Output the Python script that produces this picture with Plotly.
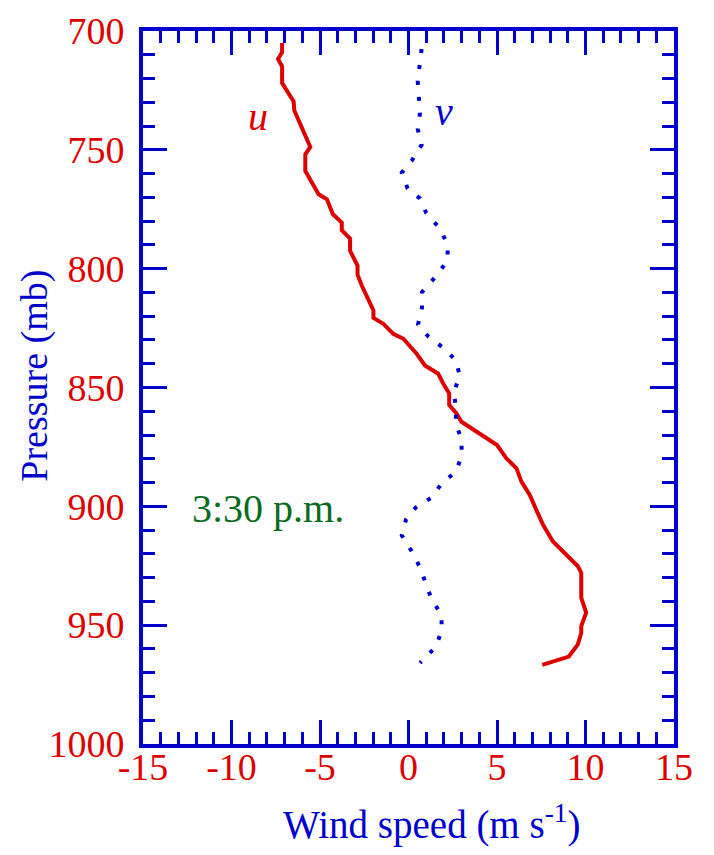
import plotly.graph_objects as go

# u component (solid red): pressure (mb) and wind speed (m/s)
u_pressure = [705.1, 708.9, 711.8, 714.9, 721.9, 726.1, 729.6, 733.5, 743.5, 748.8,
              751.9, 758.9, 768.7, 770.8, 777.1, 780.6, 783.8, 787.3, 792.5, 798.7,
              802.5, 807.1, 817.6, 820.7, 823.2, 827.4, 829.5, 835.8, 840.7, 844.2,
              848.3, 852.5, 857.4, 860.9, 864.4, 874.2, 879.8, 884.0, 889.6, 895.2,
              901.5, 907.8, 914.8, 920.3, 925.2, 928.0, 938.5, 944.8, 950.4, 953.2,
              958.1, 963.2, 966.7]
u_speed = [-7.14, -7.14, -7.37, -7.14, -7.14, -6.77, -6.49, -6.45, -5.83, -5.55,
           -5.83, -5.83, -5.08, -4.61, -4.27, -3.77, -3.77, -3.30, -3.30, -2.88,
           -2.88, -2.64, -1.98, -1.98, -1.42, -0.86, -0.29, 0.46, 0.93, 1.68,
           1.96, 2.30, 2.30, 2.71, 2.99, 5.00, 5.53, 6.10, 6.38, 6.85,
           7.22, 7.60, 8.16, 8.91, 9.57, 9.76, 9.76, 10.04, 9.76, 9.76,
           9.57, 9.06, 7.56]

# v component (dotted blue)
v_pressure = [707.6, 721.0, 734.5, 741.2, 747.9, 754.6, 759.6, 766.3, 770.5, 776.4,
              783.1, 789.8, 796.5, 803.2, 809.9, 816.6, 823.4, 828.4, 833.4, 838.6,
              845.2, 851.9, 858.6, 865.3, 872.0, 878.7, 885.4, 890.4, 896.3, 900.5,
              905.5, 912.2, 918.9, 925.7, 932.4, 939.1, 945.8, 952.5, 959.2, 965.9]
v_speed = [0.74, 0.52, 0.65, 0.52, 0.74, 0.18, -0.38, -0.05, 0.65, 0.99,
           1.77, 2.21, 2.21, 1.55, 0.76, 0.76, 0.54, 1.10, 1.98, 2.68,
           2.90, 2.56, 2.68, 2.68, 3.00, 3.00, 2.68, 1.87, 1.31, 0.41,
           -0.14, -0.38, 0.18, 0.65, 0.97, 1.31, 1.87, 1.87, 1.53, 0.65]

x_ticks = [-15, -10, -5, 0, 5, 10, 15]
y_ticks = [700, 750, 800, 850, 900, 950, 1000]

RED = "#dd0000"
BLUE = "#0000cc"
GREEN = "#0b6a22"
FONT = "Liberation Serif"

fig = go.Figure()
fig.add_trace(go.Scatter(x=u_speed, y=u_pressure, mode="lines",
                         line=dict(color=RED, width=4), showlegend=False))
fig.add_trace(go.Scatter(x=v_speed, y=v_pressure, mode="lines",
                         line=dict(color=BLUE, width=4, dash="4px,12px"),
                         showlegend=False))

axis_common = dict(showline=True, linecolor=BLUE, linewidth=4, mirror="ticks",
                   ticks="inside", ticklen=24, tickwidth=3, tickcolor=BLUE,
                   showgrid=False, zeroline=False, automargin=False,
                   tickfont=dict(family=FONT, size=38, color=RED))

fig.update_xaxes(range=[-15, 15], tickvals=x_ticks, ticktext=[str(t) for t in x_ticks],
                 minor=dict(dtick=1, ticks="inside", ticklen=12, tickwidth=3,
                            tickcolor=BLUE, showgrid=False),
                 ticklabelstandoff=-14, **axis_common)
fig.update_yaxes(range=[1000, 700], tickvals=y_ticks, ticktext=[str(t) for t in y_ticks],
                 minor=dict(dtick=10, ticks="inside", ticklen=12, tickwidth=3,
                            tickcolor=BLUE, showgrid=False),
                 ticklabelstandoff=7, **axis_common)

fig.add_annotation(x=-8.53, y=736, text="<i>u</i>", showarrow=False,
                   font=dict(family=FONT, size=40, color=RED))
fig.add_annotation(x=2.0, y=734, text="<i>v</i>", showarrow=False,
                   font=dict(family=FONT, size=40, color=BLUE))
fig.add_annotation(x=-7.95, y=901, text="3:30 p.m.", showarrow=False,
                   font=dict(family=FONT, size=40, color=GREEN))

# axis titles
fig.add_annotation(xref="paper", yref="paper", x=0.5425, y=-0.11, yanchor="middle",
                   xanchor="center",
                   text="Wind speed (m s<sup>-1</sup>)", showarrow=False,
                   font=dict(family=FONT, size=39, color=BLUE))
fig.add_annotation(xref="paper", yref="paper", x=-0.206, y=0.516, textangle=-90,
                   xanchor="center", yanchor="middle",
                   text="Pressure (mb)", showarrow=False,
                   font=dict(family=FONT, size=38, color=BLUE))

fig.update_layout(width=706, height=847,
                  margin=dict(l=135, r=40, t=22.5, b=111),
                  plot_bgcolor="white", paper_bgcolor="white")

fig.write_html("out.html")
